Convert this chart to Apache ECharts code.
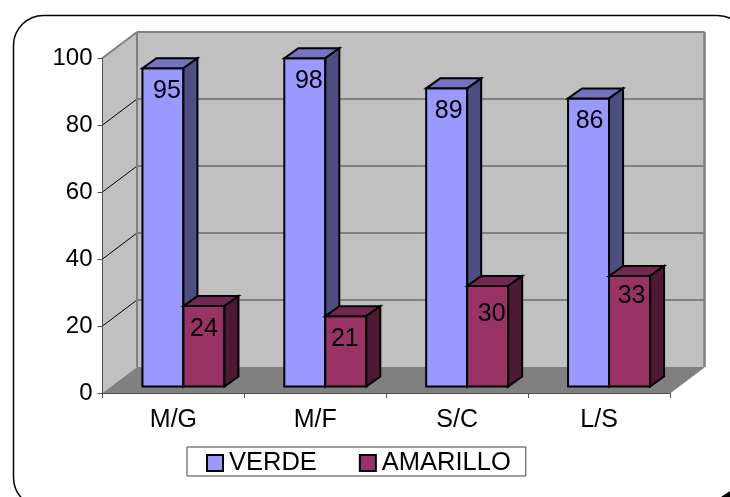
<!DOCTYPE html>
<html><head><meta charset="utf-8">
<style>html,body{margin:0;padding:0;background:#fff;overflow:hidden}#c{width:730px;height:497px}</style>
<script src="https://cdn.jsdelivr.net/npm/echarts@6/dist/echarts.min.js"></script>
</head><body><div id="c"></div>
<script>
const categories = ['M/G','M/F','S/C','L/S'];
const verde = [95,98,89,86];
const amarillo = [24,21,30,33];
const yTicks = [0,20,40,60,80,100];
const FONT = '"Liberation Sans", Arial, sans-serif';
const WALL = [34.5,-26], BASE = [10,-6.5], DEPTH = [14,-10];
const chart = echarts.init(document.getElementById('c'),null,{renderer:'canvas'});
const poly = (pts,fill,stroke,w)=>({type:'polygon',shape:{points:pts},style:{fill:fill,stroke:stroke||null,lineWidth:w||0}});
const line = (a,b,c,w)=>({type:'line',shape:{x1:a[0],y1:a[1],x2:b[0],y2:b[1]},style:{stroke:c,lineWidth:w,fill:null}});
const shift=(p,d)=>[p[0]+d[0],p[1]+d[1]];
function renderWalls(params,api){
  const cs=params.coordSys, L=cs.x, R=cs.x+cs.width, T=api.coord([0,100])[1], B=api.coord([0,0])[1];
  const fl=[L,B], ft=[L,T], fr=[R,B], bl=shift(fl,WALL), bt=shift(ft,WALL), br=shift(fr,WALL), brt=[br[0],bt[1]];
  const ch=[
    poly([bt,brt,br,bl],'#c0c0c0'),
    poly([ft,bt,bl,fl],'#c0c0c0'),
    poly([fl,bl,br,fr],'#808080')
  ];
  yTicks.forEach(v=>{
    if(v===0||v===100) return;
    const y=api.coord([0,v])[1], f=[L,y], b=shift(f,WALL);
    ch.push(line(f,b,'#000000',1));
    ch.push(line(b,[br[0],b[1]],'#404040',1));
  });
  ch.push(line(ft,bt,'#808080',2), line(bt,brt,'#808080',2), line(bt,bl,'#808080',2), line(brt,br,'#808080',2.5));
  ch.push(line(fr,br,'#808080',1));
  return {type:'group',children:ch};
}
function barRenderer(side,front,topC,sideC,nudge){
  return function(params,api){
    const i=api.value(0), v=api.value(1);
    const w=41, c=api.coord([i,0])[0];
    const x0=(side<0?c-w:c)+BASE[0], x1=x0+w;
    const yb=api.coord([i,0])[1]+BASE[1], yt=api.coord([i,v])[1]+BASE[1];
    const a=[x0,yt], b=[x1,yt], d=[x1,yb], e=[x0,yb];
    const black='#000000';
    return {type:'group',children:[
      poly([a,b,d,e],front,black,2),
      poly([a,shift(a,DEPTH),shift(b,DEPTH),b],topC,black,2),
      poly([b,shift(b,DEPTH),shift(d,DEPTH),d],sideC,black,2),
      {type:'text',style:{text:String(v),x:(x0+x1)/2+nudge[i][0],y:yt+23+nudge[i][1],align:'center',verticalAlign:'middle',
        font:'25px '+FONT,fill:'#000000'}}
    ]};
  };
}
chart.setOption({
  animation:false,
  backgroundColor:'#ffffff',
  grid:{left:102.5,right:60,top:58,bottom:104,containLabel:false},
  graphic:[
    {type:'rect',left:11,top:13,shape:{width:734,height:492,r:30},style:{fill:'none',stroke:'#000',lineWidth:1.5},z:0},
    {type:'polygon',shape:{points:[[721,497],[730,491],[730,497]]},style:{fill:'#000'},z:0}
  ],
  legend:{
    data:['VERDE','AMARILLO'],left:187,top:447,orient:'horizontal',
    icon:'rect',itemWidth:16,itemHeight:16,itemGap:42,
    padding:[3,15,0,19],
    borderColor:'#404040',borderWidth:1,backgroundColor:'#fff',borderRadius:0,
    itemStyle:{borderColor:'#000',borderWidth:2},
    textStyle:{fontFamily:FONT,fontSize:25.5,color:'#000',lineHeight:22,padding:[4,0,0,1]}
  },
  xAxis:{type:'category',data:categories,boundaryGap:true,z:10,
    axisLine:{lineStyle:{color:'#505050',width:1}},
    axisTick:{show:true,alignWithLabel:false,length:5,lineStyle:{color:'#505050'}},
    axisLabel:{fontFamily:FONT,fontSize:25,color:'#000',margin:15},splitLine:{show:false}},
  yAxis:{type:'value',min:0,max:100,interval:20,z:10,
    axisLine:{show:true,lineStyle:{color:'#505050',width:1}},
    axisTick:{show:true,length:5,lineStyle:{color:'#505050'}},
    axisLabel:{fontFamily:FONT,fontSize:24,color:'#000',margin:10,lineHeight:24,padding:[4,0,0,0]},splitLine:{show:false}},
  series:[
    {type:'custom',name:'walls',z:1,silent:true,clip:false,coordinateSystem:'cartesian2d',data:[[0,0]],renderItem:renderWalls,encode:{x:0,y:1}},
    {type:'custom',name:'VERDE',z:2,clip:false,itemStyle:{color:'#9999ff'},data:verde.map((v,i)=>[i,v]),encode:{x:0,y:1},
      renderItem:barRenderer(-1,'#9999ff','#7373bf','#4d4d80',[[4,0],[4,0],[2,0],[1,0]])},
    {type:'custom',name:'AMARILLO',z:3,clip:false,itemStyle:{color:'#993366'},data:amarillo.map((v,i)=>[i,v]),encode:{x:0,y:1},
      renderItem:barRenderer(1,'#993366','#732650','#4d1933',[[0,0],[-1,0],[4,5],[2,-3]])}
  ]
});
</script></body></html>
